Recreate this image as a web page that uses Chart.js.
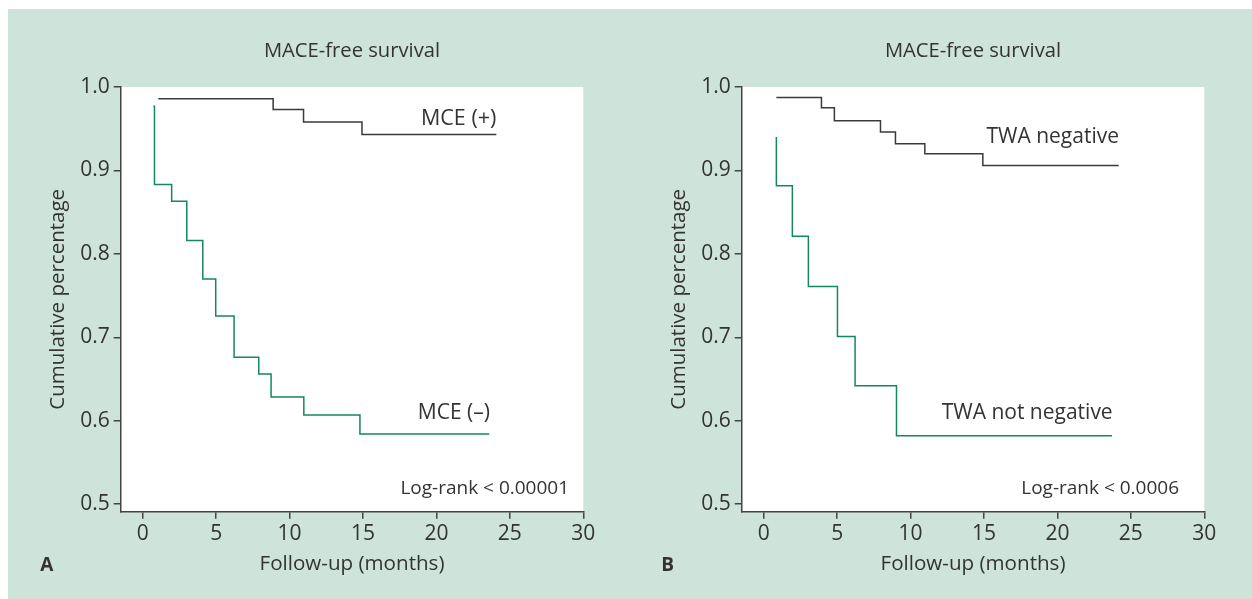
<!DOCTYPE html>
<html><head><meta charset="utf-8">
<script src="https://cdn.jsdelivr.net/npm/chart.js@4.4.1/dist/chart.umd.min.js"></script>
<style>
html,body{margin:0;padding:0;background:#fff;width:1252px;height:599px;overflow:hidden;}
#bg{position:absolute;left:8px;top:9px;width:1244px;height:590px;background:#cee3d9;}
.cv{position:absolute;top:0;height:599px;}
</style></head><body>
<div id="bg"></div>
<div class="cv" style="left:0;width:621px"><canvas id="cA"></canvas></div>
<div class="cv" style="left:621px;width:631px"><canvas id="cB"></canvas></div>
<script>
// ---- data ----
const xTicks = [0, 5, 10, 15, 20, 25, 30];
const yTicks = [0.5, 0.6, 0.7, 0.8, 0.9, 1.0];

const mcePosTime = [1.06, 8.88, 10.95, 14.93, 24.08];
const mcePosSurv = [0.986, 0.973, 0.958, 0.943, 0.943];
const mceNegTime = [0.72, 0.80, 1.97, 3.00, 4.09, 4.97, 6.22, 7.90, 8.74, 10.97, 14.79, 23.60];
const mceNegSurv = [0.977, 0.883, 0.863, 0.816, 0.770, 0.7255, 0.676, 0.656, 0.6285, 0.607, 0.584, 0.584];

const twaNegTime = [0.86, 3.93, 4.81, 7.95, 8.97, 10.97, 14.92, 24.17];
const twaNegSurv = [0.9875, 0.975, 0.9595, 0.946, 0.932, 0.920, 0.906, 0.906];
const twaNotTime = [0.86, 0.86, 1.95, 3.04, 5.02, 6.22, 9.04, 23.72];
const twaNotSurv = [0.940, 0.8816, 0.821, 0.761, 0.701, 0.642, 0.582, 0.582];

const titleText = 'MACE-free survival';
const xTitleText = 'Follow-up (months)';
const yTitleText = 'Cumulative percentage';

const notesA = [
  {text: 'MCE (+)', x: 24.08, y: 0.9547, size: 21.5},
  {text: 'MCE (\u2013)', x: 23.64, y: 0.6026, size: 21},
  {text: 'Log-rank < 0.00001', x: 29.03, y: 0.5126, size: 19}
];
const notesB = [
  {text: 'TWA negative', x: 24.19, y: 0.9328, size: 21},
  {text: 'TWA not negative', x: 23.76, y: 0.6026, size: 21},
  {text: 'Log-rank < 0.0006', x: 28.28, y: 0.5126, size: 19}
];

// ---- styling ----
const FONT = '"Open Sans", "Noto Sans", sans-serif';
const TEXT = '#333333';
const AXIS = '#444444';
const DARK = '#3a3a3a';
const GREEN = '#14885c';

function pts(t, s) { return t.map((v, i) => ({x: v, y: s[i]})); }

const decor = {
  id: 'decor',
  beforeDraw(chart) {
    const a = chart.chartArea, ctx = chart.ctx;
    ctx.save();
    ctx.fillStyle = '#ffffff';
    ctx.fillRect(a.left, a.top, a.right - a.left, a.bottom - a.top);
    ctx.restore();
  },
  afterDraw(chart, args, opts) {
    const a = chart.chartArea, ctx = chart.ctx;
    const xs = chart.scales.x, ys = chart.scales.y;
    ctx.save();
    ctx.fillStyle = TEXT;
    ctx.textBaseline = 'alphabetic';
    ctx.font = '20.2px ' + FONT;
    ctx.textAlign = 'center';
    ctx.fillText(titleText, (a.left + a.right) / 2, 56.5);
    ctx.font = 'bold 19px ' + FONT;
    ctx.fillText(opts.letter, a.left - 74, 571);
    ctx.textAlign = 'right';
    opts.notes.forEach(n => {
      ctx.font = n.size + 'px ' + FONT;
      ctx.fillText(n.text, xs.getPixelForValue(n.x), ys.getPixelForValue(n.y));
    });
    ctx.restore();
  }
};

function makeChart(id, datasets, notes, letter, padRight) {
  return new Chart(document.getElementById(id), {
    type: 'line',
    data: {
      datasets: datasets.map(d => ({
        data: pts(d.t, d.s),
        borderColor: d.color,
        borderWidth: 1.5,
        pointRadius: 0,
        stepped: 'before',
        fill: false,
        clip: false
      }))
    },
    options: {
      responsive: true,
      maintainAspectRatio: false,
      animation: false,
      events: [],
      layout: {padding: {left: 0, top: 87, right: padRight, bottom: 0}},
      plugins: {
        legend: {display: false},
        tooltip: {enabled: false},
        title: {display: false},
        decor: {notes: notes, letter: letter}
      },
      scales: {
        x: {
          type: 'linear',
          min: -1.5, max: 30,
          afterFit(s) { s.height = 87.3; },
          afterBuildTicks(s) { s.ticks = xTicks.map(v => ({value: v})); },
          grid: {display: true, drawOnChartArea: false, drawTicks: true, tickLength: 7, color: AXIS, lineWidth: 1.5},
          border: {display: true, color: AXIS, width: 1.5},
          ticks: {color: TEXT, font: {family: FONT, size: 21}, padding: 3, maxRotation: 0,
                  callback: v => String(v)},
          title: {display: true, text: xTitleText, color: TEXT, font: {family: FONT, size: 20.6},
                  padding: {top: 0, bottom: 23}}
        },
        y: {
          type: 'linear',
          min: 0.491, max: 1.0,
          afterFit(s) { s.width = 120.7; },
          afterBuildTicks(s) { s.ticks = yTicks.map(v => ({value: v})); },
          grid: {display: true, drawOnChartArea: false, drawTicks: true, tickLength: 7, color: AXIS, lineWidth: 1.5},
          border: {display: true, color: AXIS, width: 1.5},
          ticks: {color: TEXT, font: {family: FONT, size: 21}, padding: 4,
                  callback: v => Number(v).toFixed(1)},
          title: {display: true, text: yTitleText, color: TEXT, font: {family: FONT, size: 20.5},
                  padding: {top: 45.5, bottom: 0}}
        }
      }
    },
    plugins: [decor]
  });
}

makeChart('cA', [
  {t: mcePosTime, s: mcePosSurv, color: DARK},
  {t: mceNegTime, s: mceNegSurv, color: GREEN}
], notesA, 'A', 621 - 583.3);

makeChart('cB', [
  {t: twaNegTime, s: twaNegSurv, color: DARK},
  {t: twaNotTime, s: twaNotSurv, color: GREEN}
], notesB, 'B', 631 - 583.3);
</script>
</body></html>
